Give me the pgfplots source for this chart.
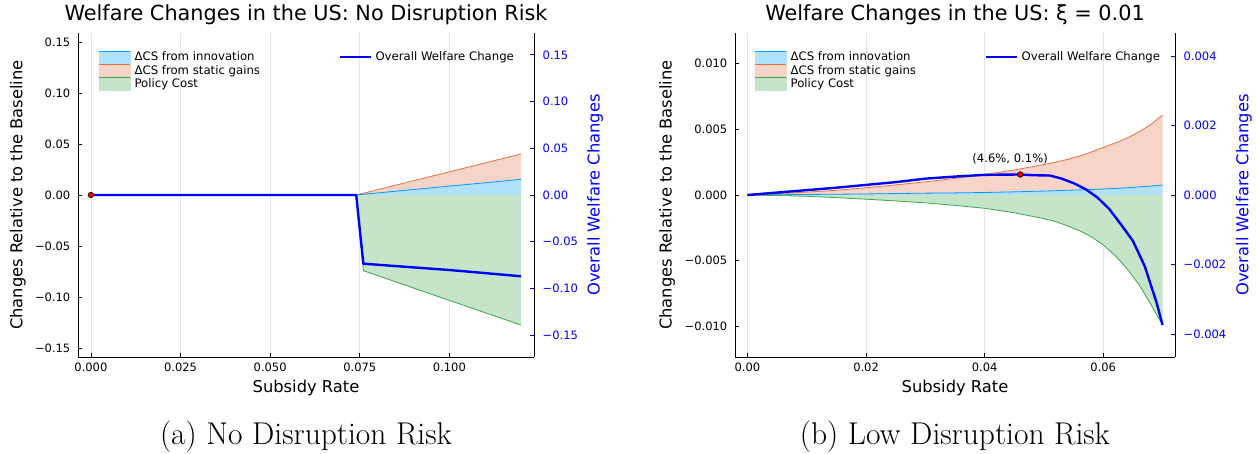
\documentclass[border=0pt]{standalone}
\usepackage{fontspec}
\usepackage{pgfplots}
\usepackage{pgfplotstable}
\pgfplotsset{compat=1.18}
\newfontfamily\dv{DejaVu Sans}
\definecolor{innovline}{RGB}{0,154,250}
\definecolor{innovfill}{RGB}{178,225,254}
\definecolor{staticline}{RGB}{227,111,71}
\definecolor{staticfill}{RGB}{247,212,200}
\definecolor{costline}{RGB}{62,164,78}
\definecolor{costfill}{RGB}{197,228,202}
\definecolor{ovblue}{RGB}{0,0,255}

% x, innovation, top of static gains (innovation + static), policy cost
\pgfplotstableread{
x innov static cost
0 0 0 0
0.074 0 0 0
0.076 0.0007 0.0017 -0.0742
0.09 0.0054 0.0140 -0.0912
0.10 0.0087 0.0227 -0.1033
0.11 0.0120 0.0315 -0.1154
0.12 0.0154 0.0402 -0.1275
}\tabA
\pgfplotstableread{
x overall
0 0
0.074 0
0.076 -0.0735
0.09 -0.0775
0.10 -0.0803
0.11 -0.0836
0.12 -0.0870
}\ovA
\pgfplotstableread{
x innov static cost
0 0 0 0
0.005 0.00002 0.00010 -0.00004
0.01 0.00004 0.00022 -0.00010
0.015 0.00006 0.00036 -0.00020
0.02 0.00008 0.00055 -0.00032
0.025 0.00011 0.00077 -0.00045
0.03 0.00014 0.00100 -0.00060
0.035 0.00016 0.00126 -0.00079
0.04 0.00019 0.00156 -0.00101
0.045 0.00024 0.00190 -0.00135
0.05 0.00030 0.00232 -0.00180
0.052 0.00033 0.00250 -0.00203
0.054 0.00036 0.00271 -0.00235
0.056 0.00039 0.00296 -0.00272
0.058 0.00042 0.00327 -0.00318
0.060 0.00045 0.00362 -0.00380
0.062 0.00050 0.00395 -0.00460
0.064 0.00055 0.00432 -0.00560
0.066 0.00062 0.00480 -0.00680
0.068 0.00068 0.00535 -0.00830
0.070 0.00076 0.00608 -0.00989
}\tabB
\pgfplotstableread{
x overall
0 0
0.005 0.00007
0.01 0.00014
0.015 0.00021
0.02 0.00029
0.025 0.00037
0.03 0.00047
0.035 0.00053
0.04 0.00058
0.046 0.00059
0.048 0.00057
0.051 0.00056
0.053 0.00047
0.055 0.00034
0.057 0.00017
0.059 -0.00007
0.061 -0.00040
0.063 -0.00085
0.065 -0.00132
0.067 -0.00205
0.069 -0.00310
0.070 -0.00374
}\ovB

\pgfplotsset{
  base/.style={scale only axis, height=324pt, scaled ticks=false,
    axis line style={line width=0.9pt, black},
    tick align=inside, major tick length=4pt,
    every tick label/.append style={font=\dv\fontsize{11.5}{13}\selectfont, inner sep=0pt},
    label style={font=\dv\fontsize{16.3}{19}\selectfont, inner sep=0pt},
    legend cell align=left,
  },
  mainax/.style={base, axis x line*=bottom, axis y line*=left,
    xmajorgrids, grid style={black!10, line width=0.7pt},
    major tick style={black, line width=0.8pt},
    xticklabel style={yshift=-6pt}, yticklabel style={xshift=-7.5pt},
    title style={font=\dv\fontsize{20.8}{24}\selectfont, at={(axis description cs:0.5,1)}, anchor=base, yshift=6pt, inner sep=0pt},
    xlabel={Subsidy Rate},
    xlabel style={at={(axis description cs:0.5,0)}, anchor=north, yshift=-23pt},
    ylabel={Changes Relative to the Baseline},
    legend style={draw=none, fill=none, inner sep=0pt, outer sep=0pt, row sep=0pt,
      font=\dv\fontsize{11.7}{13}\selectfont, nodes={inner sep=0pt},
      /tikz/every odd column/.append style={column sep=3.5pt}},
  },
  twinax/.style={base, axis x line=none, axis y line*=right,
    major tick style={ovblue, line width=0.8pt},
    yticklabel style={ovblue, xshift=8.5pt},
    ylabel={Overall Welfare Changes},
    ylabel style={ovblue},
    legend style={draw=none, fill=none, inner sep=0pt, outer sep=0pt, row sep=0pt,
      font=\dv\fontsize{11.7}{13}\selectfont, nodes={inner sep=0pt},
      /tikz/every odd column/.append style={column sep=3.5pt}},
  },
  imgA/.style={legend image code/.code={\fill[innovfill] (0pt,-6.35pt) rectangle (31.5pt,6.35pt); \draw[innovline,line width=1.3pt] (0pt,5.7pt) -- (31.5pt,5.7pt);}},
  imgB/.style={legend image code/.code={\fill[staticfill] (0pt,-6.35pt) rectangle (31.5pt,6.35pt); \draw[staticline,line width=1.3pt] (0pt,5.7pt) -- (31.5pt,5.7pt);}},
  imgC/.style={legend image code/.code={\fill[costfill] (0pt,-6.35pt) rectangle (31.5pt,6.35pt); \draw[costline,line width=1.3pt] (0pt,5.7pt) -- (31.5pt,5.7pt);}},
  imgO/.style={legend image code/.code={\path[draw=none,fill=none] (0pt,-6.35pt) rectangle (31pt,6.35pt); \draw[ovblue,line width=2.4pt] (0pt,0pt) -- (31pt,0pt);}},
}

\begin{document}
\begin{tikzpicture}
\path[use as bounding box] (0,0) rectangle (1256pt,453pt);

% ---------------- Left panel ----------------
\begin{axis}[mainax, at={(78pt,96pt)}, anchor=south west, width=456pt,
  xmin=-0.0036, xmax=0.1236, ymin=-0.1588, ymax=0.1588,
  xtick={0,0.025,0.05,0.075,0.1}, xticklabels={0.000,0.025,0.050,0.075,0.100},
  ytick={-0.15,-0.1,-0.05,0,0.05,0.1,0.15},
  yticklabels={−0.15,−0.10,−0.05,0.00,0.05,0.10,0.15},
  title={Welfare Changes in the US: No Disruption Risk},
  ylabel style={at={(axis description cs:-0.1316,0.5)}, anchor=center},
  legend style={at={(axis description cs:0.0445,0.9454)}, anchor=north west},
]
\addlegendimage{imgA}\addlegendentry{ΔCS from innovation}
\addlegendimage{imgB}\addlegendentry{ΔCS from static gains}
\addlegendimage{imgC}\addlegendentry{Policy Cost}
\addplot[draw=none, fill=staticfill, forget plot] table[x=x,y=static]{\tabA} \closedcycle;
\addplot[draw=none, fill=innovfill, forget plot] table[x=x,y=innov]{\tabA} \closedcycle;
\addplot[draw=none, fill=costfill, forget plot] table[x=x,y=cost]{\tabA} \closedcycle;
\addplot[staticline, line width=0.8pt, forget plot] table[x=x,y=static]{\tabA};
\addplot[innovline, line width=0.8pt, forget plot] table[x=x,y=innov]{\tabA};
\addplot[costline, line width=0.8pt, forget plot] table[x=x,y=cost]{\tabA};
\end{axis}
\begin{axis}[twinax, at={(78pt,96pt)}, anchor=south west, width=456pt,
  xmin=-0.0036, xmax=0.1236, ymin=-0.1734, ymax=0.1734,
  ytick={-0.15,-0.1,-0.05,0,0.05,0.1,0.15},
  yticklabels={−0.15,−0.10,−0.05,0.00,0.05,0.10,0.15},
  ylabel style={at={(axis description cs:1.1338,0.5)}, anchor=center},
  legend style={at={(axis description cs:0.956,0.9454)}, anchor=north east},
]
\addlegendimage{imgO}\addlegendentry{Overall Welfare Change}
\addplot[ovblue, line width=2.4pt, line join=round, forget plot] table[x=x,y=overall]{\ovA};
\addplot[only marks, mark=*, mark size=2.8pt, mark options={fill=red, draw=black, line width=0.6pt}, forget plot] coordinates {(0,0)};
\end{axis}

% ---------------- Right panel ----------------
\begin{axis}[mainax, at={(735pt,96pt)}, anchor=south west, width=440pt,
  xmin=-0.0021, xmax=0.0721, ymin=-0.01232, ymax=0.01232,
  xtick={0,0.02,0.04,0.06}, xticklabels={0.00,0.02,0.04,0.06},
  ytick={-0.01,-0.005,0,0.005,0.01},
  yticklabels={−0.010,−0.005,0.000,0.005,0.010},
  title={Welfare Changes in the US: ξ = 0.01},
  ylabel style={at={(axis description cs:-0.1545,0.5)}, anchor=center},
  legend style={at={(axis description cs:0.0439,0.9454)}, anchor=north west},
]
\addlegendimage{imgA}\addlegendentry{ΔCS from innovation}
\addlegendimage{imgB}\addlegendentry{ΔCS from static gains}
\addlegendimage{imgC}\addlegendentry{Policy Cost}
\addplot[draw=none, fill=staticfill, forget plot] table[x=x,y=static]{\tabB} \closedcycle;
\addplot[draw=none, fill=innovfill, forget plot] table[x=x,y=innov]{\tabB} \closedcycle;
\addplot[draw=none, fill=costfill, forget plot] table[x=x,y=cost]{\tabB} \closedcycle;
\addplot[staticline, line width=0.8pt, forget plot] table[x=x,y=static]{\tabB};
\addplot[innovline, line width=0.8pt, forget plot] table[x=x,y=innov]{\tabB};
\addplot[costline, line width=0.8pt, forget plot] table[x=x,y=cost]{\tabB};
\end{axis}
\begin{axis}[twinax, at={(735pt,96pt)}, anchor=south west, width=440pt,
  xmin=-0.0021, xmax=0.0721, ymin=-0.00466, ymax=0.00466,
  ytick={-0.004,-0.002,0,0.002,0.004},
  yticklabels={−0.004,−0.002,0.000,0.002,0.004},
  ylabel style={at={(axis description cs:1.1568,0.5)}, anchor=center},
  legend style={at={(axis description cs:0.966,0.9454)}, anchor=north east},
]
\addlegendimage{imgO}\addlegendentry{Overall Welfare Change}
\addplot[ovblue, line width=2.4pt, line join=round, forget plot] table[x=x,y=overall]{\ovB};
\addplot[only marks, mark=*, mark size=2.8pt, mark options={fill=red, draw=black, line width=0.6pt}, forget plot] coordinates {(0.046,0.00059)};
\node[font=\dv\fontsize{11.6}{13}\selectfont, inner sep=0pt] at (axis cs:0.0443,0.00104) {(4.6\%, 0.1\%)};
\end{axis}

% ---------------- Captions ----------------
\node[anchor=base, font=\fontsize{31.5}{36}\selectfont, inner sep=0pt] at (306pt,9pt) {(a) No Disruption Risk};
\node[anchor=base, font=\fontsize{31.5}{36}\selectfont, inner sep=0pt] at (955pt,9pt) {(b) Low Disruption Risk};
\end{tikzpicture}
\end{document}
